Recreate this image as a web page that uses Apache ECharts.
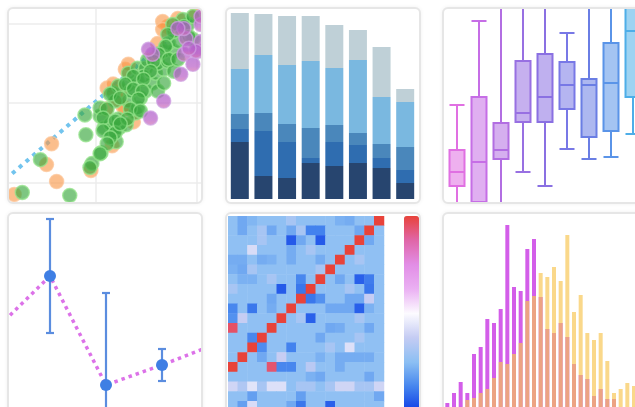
<!DOCTYPE html>
<html>
<head>
<meta charset="utf-8">
<script src="https://cdn.jsdelivr.net/npm/echarts@6/dist/echarts.min.js"></script>
<style>
  html, body { margin: 0; padding: 0; width: 635px; height: 407px; overflow: hidden; background: #fff; }
  .card { position: absolute; box-sizing: border-box; border: 2px solid #e6e6e6; border-radius: 6px;
          overflow: hidden; background: #fff; box-shadow: 0 0 4px rgba(0, 0, 0, 0.06); }
  .chart { position: absolute; }
</style>
</head>
<body>
<div class="card" style="left:7px;top:7px;width:196px;height:197px"><div class="chart" id="scatter"></div></div>
<div class="card" style="left:225px;top:7px;width:196px;height:197px"><div class="chart" id="stack"></div></div>
<div class="card" style="left:442px;top:7px;width:220px;height:197px"><div class="chart" id="box"></div></div>
<div class="card" style="left:7px;top:212px;width:196px;height:220px"><div class="chart" id="error"></div></div>
<div class="card" style="left:225px;top:212px;width:196px;height:220px"><div class="chart" id="heat"></div></div>
<div class="card" style="left:442px;top:212px;width:220px;height:220px"><div class="chart" id="hist"></div></div>
<script>
// ---- data ----
const scatterOrange = [
  [19, 68], [61, 81], [51, 98], [56, 119], [95, 92], [116, 117], [110, 154], [137, 141],
  [129, 154], [111, 175], [121, 164], [129, 194], [132, 199], [124, 172], [117, 179],
  [161, 220], [171, 237], [166, 242], [181, 245], [199, 249], [166, 234], [127, 156]
];
const scatterGreen = [
  [27, 70], [74, 67], [45, 103], [90, 128], [89, 148], [96, 99], [94, 95], [105, 110],
  [120, 121], [104, 147], [104, 155], [108, 135], [117, 132], [114, 139], [123, 135],
  [130, 138], [139, 150], [122, 144], [132, 162], [141, 155], [144, 165], [117, 170],
  [119, 162], [122, 177], [132, 179], [141, 182], [149, 172], [156, 180], [161, 172],
  [132, 190], [141, 195], [149, 195], [159, 190], [167, 194], [151, 203], [161, 200],
  [171, 202], [177, 192], [167, 212], [177, 212], [172, 220], [181, 222], [196, 224],
  [177, 232], [191, 239], [186, 244], [196, 247], [147, 187], [134, 172], [187, 237],
  [176, 239], [171, 229], [192, 227], [169, 217], [162, 209], [157, 202], [172, 204],
  [181, 204], [154, 192], [137, 187], [147, 184], [167, 180], [129, 179], [137, 174],
  [146, 172], [114, 169], [124, 165], [142, 164], [111, 154], [134, 154], [144, 152],
  [107, 145], [119, 142], [131, 144], [107, 132], [119, 130], [124, 139], [114, 125],
  [111, 119], [104, 109]
];
const scatterPurple = [
  [156, 209], [152, 214], [187, 209], [196, 199], [201, 212], [167, 162], [154, 145],
  [184, 189], [189, 225], [204, 222], [187, 235], [204, 239], [204, 247], [199, 212],
  [181, 235], [192, 215]
];
const trendLine = [[17, 89], [210, 258]];

const stackCategories = ['1', '2', '3', '4', '5', '6', '7', '8'];
const stackDark = [57, 23, 21, 36, 33, 36, 31, 16];
const stackMid = [13, 45, 36, 5, 24, 18, 10, 13];
const stackSteel = [15, 18, 18, 30, 17, 12, 14, 23];
const stackLight = [45, 58, 59, 67, 57, 73, 47, 45];
const stackGray = [56, 41, 49, 45, 43, 30, 50, 13];

const boxCategories = ['a', 'b', 'c', 'd', 'e', 'f', 'g', 'h', 'i', 'j'];
const boxValues = [
  [-10, 34, 48, 70, 115],
  [-10, 18, 58, 123, 199],
  [-10, 61, 70, 97, 235],
  [48, 98, 107, 159, 235],
  [34, 98, 123, 166, 235],
  [71, 111, 135, 158, 187],
  [61, 83, 135, 141, 235],
  [63, 89, 137, 177, 235],
  [86, 123, 189, 225, 235],
  [100, 140, 180, 225, 235]
];

const errCategories = ['A', 'B', 'C', 'D', 'E'];
const errMean = [119, 174, 65, 85, 107];
const errHigh = [140, 231, 157, 101, 125];
const errLow = [95, 117, 5, 69, 90];

const heatRows = [
  [2.6, 2.0, 2.3, 2.6, 2.6, 2.6, 3.1, 2.6, 2.6, 2.6, 2.6, 2.2, 2.1, 2.6, 2.6, 10],
  [2.6, 2.0, 2.6, 3.1, 2.0, 2.6, 2.0, 3.1, 1.2, 1.2, 2.6, 2.6, 2.6, 2.0, 10, 2.6],
  [2.6, 2.6, 2.6, 3.1, 2.6, 2.6, 0.5, 2.0, 2.6, 0.5, 2.6, 2.6, 2.6, 10, 2.0, 2.6],
  [2.6, 2.6, 4.2, 2.6, 2.6, 2.6, 2.1, 2.6, 3.1, 2.6, 2.6, 2.6, 10, 2.6, 2.6, 2.6],
  [2.1, 2.1, 2.6, 2.1, 2.2, 2.6, 2.1, 2.6, 2.6, 2.1, 2.6, 10, 2.6, 3.1, 2.6, 2.6],
  [2.2, 2.0, 3.1, 2.6, 2.6, 2.6, 2.6, 2.6, 2.6, 3.1, 10, 2.6, 2.6, 2.6, 2.6, 2.6],
  [2.6, 2.2, 2.2, 2.6, 3.1, 2.6, 2.6, 1.3, 2.6, 10, 2.6, 2.0, 2.6, 0.6, 1.1, 2.6],
  [3.1, 2.6, 2.6, 2.6, 2.6, 0.5, 2.6, 1.0, 10, 2.6, 2.6, 2.6, 3.1, 2.6, 1.0, 2.6],
  [2.6, 2.6, 2.6, 2.6, 2.0, 2.6, 2.6, 10, 1.0, 1.5, 2.6, 2.6, 2.0, 2.0, 3.8, 2.6],
  [1.3, 2.6, 1.0, 2.6, 2.1, 2.6, 10, 2.6, 2.6, 2.6, 2.0, 2.0, 2.0, 0.6, 2.2, 2.6],
  [1.5, 3.8, 2.6, 2.6, 2.6, 10, 2.6, 3.1, 0.6, 2.6, 2.6, 2.6, 2.6, 3.1, 2.6, 2.6],
  [9.5, 2.6, 2.6, 2.6, 10, 2.6, 2.6, 2.6, 2.6, 2.6, 2.0, 2.1, 2.6, 2.6, 2.0, 2.6],
  [2.6, 2.6, 1.3, 10, 2.6, 2.6, 2.6, 2.6, 2.6, 2.0, 2.6, 2.6, 2.6, 3.1, 2.6, 2.6],
  [2.6, 2.6, 10, 1.4, 2.6, 2.6, 1.2, 2.6, 2.6, 2.6, 3.1, 2.6, 4.3, 2.6, 2.6, 2.6],
  [2.6, 10, 2.6, 2.0, 2.6, 3.8, 2.6, 2.6, 2.6, 2.2, 2.6, 2.1, 2.1, 2.1, 2.1, 2.6],
  [10, 2.6, 2.6, 2.6, 9.4, 1.3, 1.3, 2.6, 3.5, 2.6, 2.6, 2.1, 2.6, 2.6, 2.6, 2.6],
  [2.6, 2.6, 2.6, 2.6, 2.6, 2.6, 2.6, 2.6, 2.2, 2.0, 2.6, 2.6, 2.6, 2.6, 2.0, 2.6],
  [4.0, 3.3, 4.4, 3.1, 4.3, 4.3, 2.6, 3.1, 3.1, 2.6, 3.1, 4.0, 4.0, 3.1, 3.1, 4.0],
  [2.6, 2.6, 1.8, 2.6, 2.6, 2.6, 2.6, 1.8, 2.6, 2.6, 2.6, 2.6, 2.6, 2.6, 2.6, 2.0],
  [2.6, 1.8, 4.2, 2.6, 2.6, 2.6, 2.0, 1.0, 2.6, 2.6, 0.6, 2.6, 2.6, 2.6, 2.6, 2.6]
];

const histMagenta = [5, 15, 26, 15, 54, 61, 89, 85, 99, 183, 121, 117, 159, 169, 111,
  79, 75, 85, 71, 44, 33, 29, 12, 19, 9, 9, 0, 0, 0, 0];
const histYellow = [0, 0, 0, 8, 10, 15, 19, 30, 46, 44, 54, 65, 107, 112, 135,
  131, 141, 127, 173, 96, 113, 75, 68, 75, 47, 15, 19, 25, 22, 14];

// ---- styles ----
const stackColors = ['#27456f', '#2f6db0', '#4a87bb', '#7ab8e0', '#bfd0d7'];
const boxBorders = ['#e070e2', '#c66ee6', '#b26ee2', '#9870e2', '#8a70e2', '#7878e6',
  '#6a7ee4', '#5a94e8', '#4eaee8', '#4cbce8'];
const heatColors = ['#0f3ee6', '#4585ee', '#8cbff3', '#c4cbf3', '#fcfbff',
  '#eab0f2', '#e28ee6', '#e066a8', '#e8433a'];

// ---- layout helpers ----
const B = 2;
function mount(id, cardX, cardY, x, y, w, h) {
  const el = document.getElementById(id);
  el.style.left = (x - cardX - B) + 'px';
  el.style.top = (y - cardY - B) + 'px';
  el.style.width = w + 'px';
  el.style.height = h + 'px';
  return echarts.init(el);
}
const fullGrid = { left: 0, right: 0, top: 0, bottom: 0 };

// 1. scatter
const c1 = mount('scatter', 7, 7, -5, -56, 303, 318);
const dotSeries = (data, color, border) => ({
  type: 'scatter', data: data, symbolSize: 14,
  itemStyle: { color: color, borderColor: border, borderWidth: 1.5 }
});
c1.setOption({
  animation: false,
  grid: fullGrid,
  xAxis: {
    type: 'value', min: 0, max: 300, interval: 100,
    axisLine: { show: false }, axisTick: { show: false }, axisLabel: { show: false },
    splitLine: { lineStyle: { color: '#ececec', width: 1.5 } }
  },
  yAxis: {
    type: 'value', min: 0, max: 320, interval: 80,
    axisLine: { show: false }, axisTick: { show: false }, axisLabel: { show: false },
    splitLine: { lineStyle: { color: '#ececec', width: 1.5 } }
  },
  series: [
    {
      type: 'line', data: trendLine, symbol: 'none', z: 1,
      lineStyle: { color: '#72c4ee', width: 4, type: [4, 5] }
    },
    dotSeries(scatterOrange, 'rgba(248,150,70,0.78)', 'rgba(252,196,150,0.9)'),
    dotSeries(scatterGreen, 'rgba(58,168,62,0.82)', 'rgba(150,228,140,0.95)'),
    dotSeries(scatterPurple, new echarts.graphic.LinearGradient(0, 0, 0, 1, [
      { offset: 0, color: 'rgba(172,92,204,0.9)' },
      { offset: 0.65, color: 'rgba(186,98,200,0.9)' },
      { offset: 1, color: 'rgba(214,118,176,0.9)' }
    ]), 'rgba(206,160,226,0.9)')
  ]
});

// 2. stacked bars
const c2 = mount('stack', 225, 7, 228, 10, 190, 191);
const stackSeries = [stackDark, stackMid, stackSteel, stackLight, stackGray].map((d, i) => ({
  type: 'bar', stack: 'all', data: d, barWidth: 18,
  itemStyle: { color: stackColors[i] }
}));
c2.setOption({
  animation: false,
  grid: { left: 0, right: 1, top: 0, bottom: 2 },
  xAxis: { type: 'category', data: stackCategories, show: false },
  yAxis: { type: 'value', min: 0, max: 189, show: false },
  series: stackSeries
});

// 3. boxplot
const c3 = mount('box', 442, 7, 446, 0, 220, 220);
c3.setOption({
  animation: false,
  grid: fullGrid,
  xAxis: { type: 'category', data: boxCategories, show: false },
  yAxis: { type: 'value', min: 0, max: 220, show: false },
  series: [{
    type: 'boxplot',
    boxWidth: [15, 15],
    data: boxValues.map((v, i) => ({
      value: v,
      itemStyle: {
        color: echarts.color.modifyAlpha(boxBorders[i], 0.55),
        borderColor: boxBorders[i],
        borderWidth: 2
      }
    }))
  }]
});

// 4. line with error bars
const c4 = mount('error', 7, 212, -34, 215, 280, 235);
c4.setOption({
  animation: false,
  grid: fullGrid,
  xAxis: { type: 'category', data: errCategories, show: false },
  yAxis: { type: 'value', min: 0, max: 235, show: false },
  series: [
    {
      type: 'custom', z: 1,
      data: errCategories.map((c, i) => [i, errHigh[i], errLow[i]]),
      encode: { x: 0, y: [1, 2] },
      renderItem: function (params, api) {
        const hi = api.coord([api.value(0), api.value(1)]);
        const lo = api.coord([api.value(0), api.value(2)]);
        const s = { stroke: '#5b8ddf', lineWidth: 2.2 };
        return {
          type: 'group',
          children: [
            { type: 'line', shape: { x1: hi[0] - 4, y1: hi[1], x2: hi[0] + 4, y2: hi[1] }, style: s },
            { type: 'line', shape: { x1: hi[0], y1: hi[1], x2: lo[0], y2: lo[1] }, style: s },
            { type: 'line', shape: { x1: lo[0] - 4, y1: lo[1], x2: lo[0] + 4, y2: lo[1] }, style: s }
          ]
        };
      }
    },
    {
      type: 'line', data: errMean, z: 2,
      symbol: 'circle', symbolSize: 12, showAllSymbol: true,
      itemStyle: { color: '#3f7fe4' },
      lineStyle: { color: '#dc72e8', width: 3.5, type: [3.5, 4] }
    }
  ]
});

// 5. heatmap
const c5 = mount('heat', 225, 212, 228, 216, 202, 204);
const heatData = [];
heatRows.forEach((row, r) => row.forEach((v, c) => heatData.push([c, r, v])));
c5.setOption({
  animation: false,
  grid: { left: 0, top: 0, width: 156, height: 195 },
  xAxis: { type: 'category', data: heatRows[0].map((v, i) => i), show: false },
  yAxis: { type: 'category', data: heatRows.map((v, i) => i), show: false, inverse: true },
  visualMap: {
    type: 'continuous', min: 0, max: 10, calculable: false, orient: 'vertical',
    left: 176, top: 0, itemWidth: 15, itemHeight: 195, padding: 0,
    inRange: { color: heatColors }
  },
  series: [{ type: 'heatmap', data: heatData }]
});

// 6. overlapping histogram
const c6 = mount('hist', 442, 212, 444, 210, 200, 198);
c6.setOption({
  animation: false,
  grid: fullGrid,
  xAxis: { type: 'category', data: histMagenta.map((v, i) => i), show: false },
  yAxis: { type: 'value', min: 0, max: 198, show: false },
  series: [
    { type: 'bar', data: histMagenta, barWidth: 4, barGap: '-100%', itemStyle: { color: '#d35ee9' } },
    { type: 'bar', data: histYellow, barWidth: 4, barGap: '-100%', itemStyle: { color: '#f8c550', opacity: 0.67 } }
  ]
});
</script>
</body>
</html>
